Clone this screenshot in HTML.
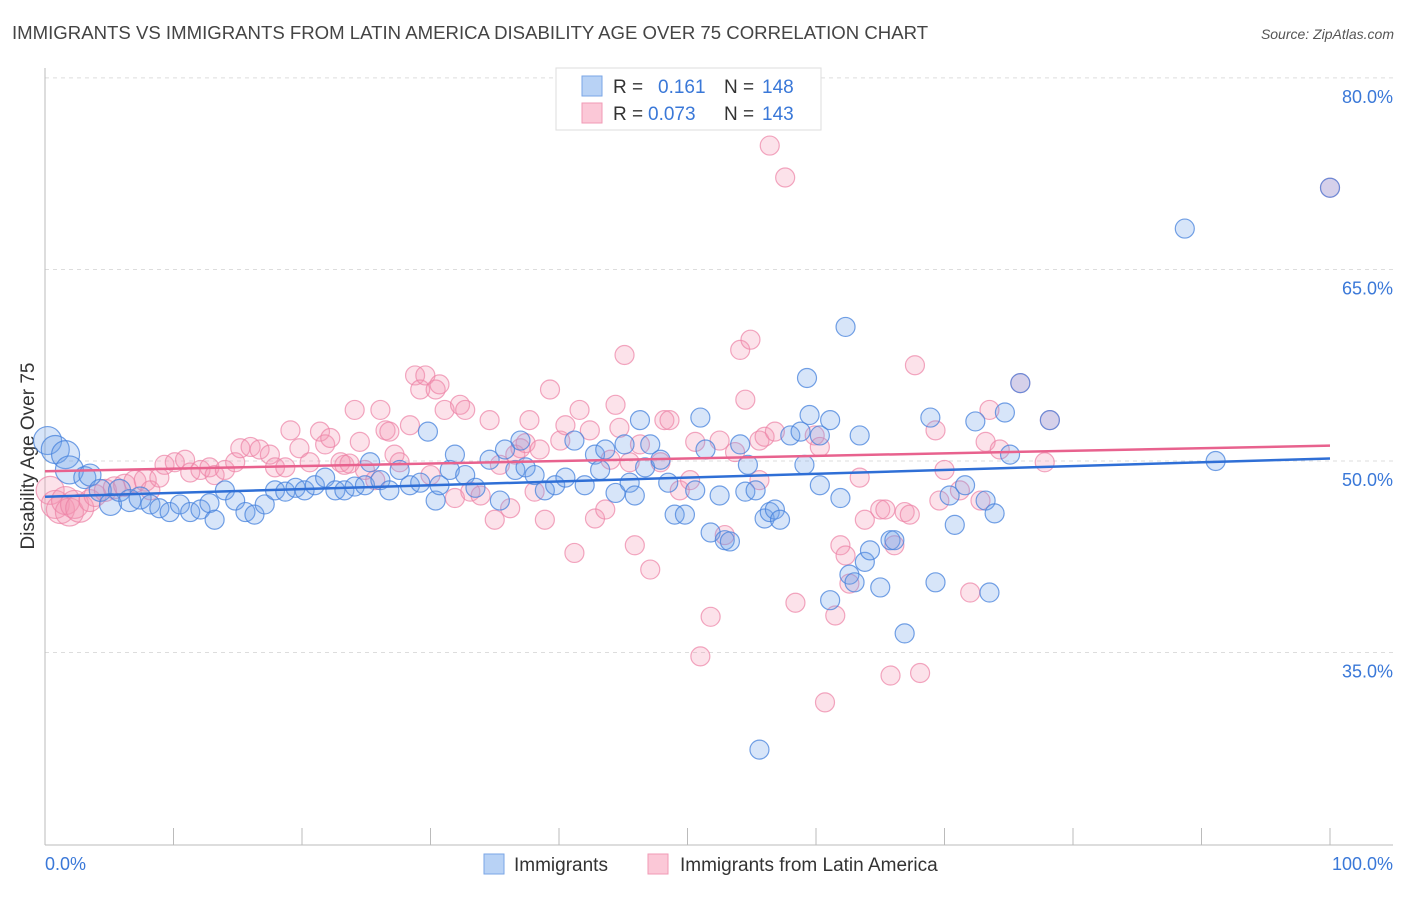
<!DOCTYPE html>
<html><head><meta charset="utf-8"><style>
body{margin:0;background:#fff;font-family:"Liberation Sans",sans-serif}
svg text{font-family:"Liberation Sans",sans-serif}
</style></head><body>
<svg id="c" width="1406" height="892">
<text x="12" y="39" font-size="18.6" fill="#444">IMMIGRANTS VS IMMIGRANTS FROM LATIN AMERICA DISABILITY AGE OVER 75 CORRELATION CHART</text>
<text x="1394" y="39" font-size="14" fill="#555" font-style="italic" text-anchor="end">Source: ZipAtlas.com</text>
<text x="34" y="456" font-size="19" fill="#333" text-anchor="middle" transform="rotate(-90 34 456)">Disability Age Over 75</text>
<g id="grid"></g><g id="axes"></g><g id="pts"></g><g id="trend"></g>
<g>
<rect x="556" y="68" width="265" height="62" fill="#fff" stroke="#ddd"/>
<rect x="582" y="76" width="20" height="20" fill="#b8d2f5" stroke="#7aa6e6"/>
<rect x="582" y="103" width="20" height="20" fill="#fbc8d7" stroke="#f09ab5"/>
<text x="613" y="93" font-size="19" fill="#333">R = </text><text x="658" y="93" font-size="19" fill="#3a78d8">0.161</text>
<text x="724" y="93" font-size="19" fill="#333">N = </text><text x="762" y="93" font-size="19" fill="#3a78d8">148</text>
<text x="613" y="120" font-size="19" fill="#333">R = </text><text x="648" y="120" font-size="19" fill="#3a78d8">0.073</text>
<text x="724" y="120" font-size="19" fill="#333">N = </text><text x="762" y="120" font-size="19" fill="#3a78d8">143</text>
</g>
<g>
<rect x="484" y="854" width="20" height="20" fill="#b8d2f5" stroke="#7aa6e6"/>
<text x="514" y="871" font-size="19" fill="#333">Immigrants</text>
<rect x="648" y="854" width="20" height="20" fill="#fbc8d7" stroke="#f09ab5"/>
<text x="680" y="871" font-size="19" fill="#333">Immigrants from Latin America</text>
</g>
<text x="45" y="870" font-size="18" fill="#3a78d8">0.0%</text>
<text x="1393" y="870" font-size="18" fill="#3a78d8" text-anchor="end">100.0%</text>
</svg>
<script>
const yTicks=[80,65,50,35];
const yTickLabels=["80.0%","65.0%","50.0%","35.0%"];
const xTicks=[0,10,20,30,40,50,60,70,80,90,100];
const blueX=[0.2,0.8,1.6,1.9,3.1,3.5,4.3,5.1,5.8,6.6,7.4,8.2,8.9,9.7,10.5,11.3,12.1,12.8,13.2,14.0,14.8,15.6,16.3,17.1,17.9,18.7,19.5,20.2,21.0,21.8,22.6,23.3,24.1,24.9,25.3,26.1,26.8,27.6,28.4,29.2,29.8,30.4,30.7,31.5,31.9,32.7,33.5,34.6,35.4,35.8,36.6,37.0,37.4,38.1,38.9,39.7,40.5,41.2,42.0,42.8,43.2,43.6,44.4,45.1,45.5,45.9,46.3,46.7,47.1,47.9,48.5,49.0,49.8,50.6,51.0,51.4,51.8,52.5,52.9,53.3,54.1,54.5,54.7,55.3,56.0,56.4,56.8,57.2,58.0,58.8,59.1,59.5,60.3,61.1,61.9,62.3,62.6,63.0,63.4,63.8,64.2,65.0,65.8,66.1,66.9,68.9,69.3,70.4,70.8,71.6,72.4,73.2,73.5,73.9,74.7,75.1,78.2,75.9,88.7,91.1,55.6,61.1,59.3,60.3,100];
const blueY=[51.6,50.9,50.5,49.3,48.7,48.9,47.7,46.6,47.7,46.9,47.1,46.6,46.3,46.0,46.6,46.0,46.2,46.7,45.4,47.7,46.9,46.0,45.8,46.6,47.7,47.6,47.9,47.7,48.1,48.7,47.7,47.7,48.0,48.1,49.9,48.5,47.7,49.3,48.1,48.3,52.3,46.9,48.1,49.3,50.5,48.9,47.9,50.1,46.9,50.9,49.3,51.6,49.5,48.9,47.7,48.1,48.7,51.6,48.1,50.5,49.3,50.9,47.5,51.3,48.3,47.3,53.2,49.5,51.3,50.1,48.3,45.8,45.8,47.7,53.4,50.9,44.4,47.3,43.8,43.7,51.3,47.6,49.7,47.7,45.5,46.0,46.2,45.4,52.0,52.3,49.7,53.6,52.0,53.2,47.1,60.5,41.1,40.5,52.0,42.1,43.0,40.1,43.8,43.8,36.5,53.4,40.5,47.3,45.0,48.1,53.1,46.9,39.7,45.9,53.8,50.5,53.2,56.1,68.2,50.0,27.4,39.1,56.5,48.1,71.4];
const pinkX=[0.4,0.8,1.2,1.6,1.9,2.3,2.7,3.5,3.9,4.7,5.4,6.2,7.0,7.8,8.2,8.9,9.3,10.1,10.9,11.3,12.1,12.8,13.2,14.0,14.8,15.2,16.0,16.7,17.5,17.9,18.7,19.1,19.8,20.6,21.4,21.8,22.2,23.0,23.3,23.7,24.1,24.5,24.9,25.7,26.1,26.5,26.8,27.2,27.6,28.4,28.8,29.2,29.6,30.0,30.4,30.7,31.1,31.9,32.3,32.7,33.1,33.9,34.6,35.0,35.4,36.2,36.6,37.0,37.4,37.7,38.1,38.5,39.3,40.1,40.5,41.2,41.6,42.4,42.8,43.6,44.0,44.4,44.7,45.1,45.5,45.9,46.3,47.1,47.9,48.2,48.6,49.4,50.2,50.6,51.0,51.8,52.5,52.9,53.7,54.1,54.5,54.9,55.6,56.0,56.4,56.8,57.6,58.4,58.8,59.9,60.3,60.7,61.5,61.9,62.3,62.6,63.4,63.8,65.0,65.4,65.8,66.1,66.9,67.3,67.7,68.1,69.3,69.6,70.0,71.2,72.0,72.8,73.2,73.5,74.3,75.9,77.8,78.2,100,55.6,38.9];
const pinkY=[47.7,46.6,46.2,46.9,46.0,46.6,46.3,46.9,47.3,47.7,47.9,48.1,48.4,48.5,47.7,48.7,49.7,49.9,50.1,49.1,49.3,49.5,48.9,49.3,49.9,51.0,51.1,50.9,50.5,49.5,49.5,52.4,51.0,49.9,52.3,51.3,51.8,49.9,49.7,49.8,54.0,51.5,49.3,48.5,54.0,52.4,52.3,50.5,49.9,52.8,56.7,55.6,56.7,48.9,55.6,56.0,54.0,47.1,54.4,54.0,47.6,47.3,53.2,45.4,49.7,46.3,50.5,51.0,51.4,53.2,47.6,50.9,55.6,51.6,52.8,42.8,54.0,52.4,45.5,46.2,50.1,54.4,52.6,58.3,49.9,43.4,51.3,41.5,49.9,53.2,53.2,47.7,48.5,51.5,34.7,37.8,51.6,44.2,50.7,58.7,54.8,59.5,51.6,51.9,74.7,52.3,72.2,38.9,76.9,52.0,51.1,31.1,37.9,43.4,42.6,40.4,48.7,45.4,46.2,46.2,33.2,43.4,46.0,45.8,57.5,33.4,52.4,46.9,49.3,47.7,39.7,46.9,51.5,54.0,50.9,56.1,49.9,53.2,71.4,48.5,45.4];
const blueTrend=[47.2,50.2];
const pinkTrend=[49.2,51.2];

const X0=45,X1=1330,Yref=461,PPU=12.77;
const sx=v=>X0+(X1-X0)*v/100;
const sy=v=>Yref-(v-50)*PPU;
const NS="http://www.w3.org/2000/svg";
function mk(t,a,p){const e=document.createElementNS(NS,t);for(const k in a)e.setAttribute(k,a[k]);p.appendChild(e);return e;}
const grid=document.getElementById('grid'),axes=document.getElementById('axes'),pts=document.getElementById('pts'),tr=document.getElementById('trend');
yTicks.forEach((v,i)=>{
 const l=mk('line',{x1:45,x2:1393,y1:sy(v),y2:sy(v),stroke:'#ddd','stroke-dasharray':'4,4'},grid);
 
 
 const t=mk('text',{x:1393,y:sy(v)+25,'font-size':18,fill:'#3a78d8','text-anchor':'end'},grid);
 t.textContent=yTickLabels[i];
 
 
});
const ax=mk('line',{x1:45,x2:45,y1:68,y2:845,stroke:'#bbb'},axes);


const bx=mk('line',{x1:45,x2:1393,y1:845,y2:845,stroke:'#bbb'},axes);


xTicks.forEach(v=>{
 const t=mk('line',{x1:sx(v),x2:sx(v),y1:828,y2:845,stroke:'#bbb'},axes);
 
 
});
function draw(xs,ys,fill,stroke,name){
 xs.forEach((x,i)=>{
  const r=x<3?14:(x<8?11:9.5);
  const c=mk('circle',{cx:sx(x),cy:sy(ys[i]),r:r,fill:fill,stroke:stroke,'stroke-width':1.2},pts);
  
  
 });
}
draw(pinkX,pinkY,'rgba(244,150,180,0.28)','rgba(236,130,165,0.7)','point-latin-america');
draw(blueX,blueY,'rgba(110,160,235,0.28)','rgba(70,130,220,0.75)','point-immigrants');
const bl=mk('line',{x1:sx(0),x2:sx(100),y1:sy(blueTrend[0]),y2:sy(blueTrend[1]),stroke:'#2f6fd6','stroke-width':2.5},tr);


const pl=mk('line',{x1:sx(0),x2:sx(100),y1:sy(pinkTrend[0]),y2:sy(pinkTrend[1]),stroke:'#e8628e','stroke-width':2.5},tr);


</script>
</body></html>
